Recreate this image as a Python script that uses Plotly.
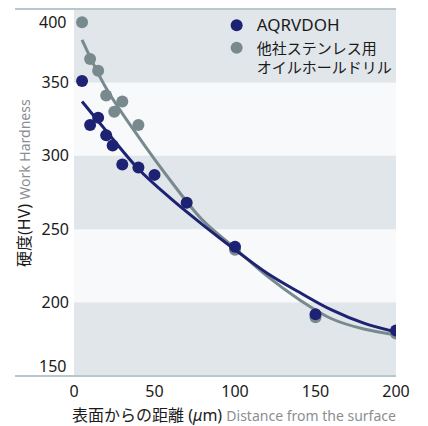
import plotly.graph_objects as go

# Measured points
depth_aq = [5, 10, 15, 20, 24, 30, 40, 50, 70, 100, 150, 200]
hv_aq = [351, 321, 326, 314, 307, 294, 292, 287, 268, 238, 192, 181]
depth_other = [5, 10, 15, 20, 25, 30, 40, 100, 150, 200]
hv_other = [391, 366, 358, 341, 330, 337, 321, 236, 190, 179]

# Trend curves
fit_x = [5, 20, 40, 60, 80, 100, 120, 140, 160, 180, 200]
fit_aq = [337, 317, 291, 271, 253, 236, 220, 207, 195, 186, 180]
fit_other = [379, 346, 313, 283, 256, 237, 218, 202, 189, 182, 178]

x_ticks = [0, 50, 100, 150, 200]
y_ticks = [200, 250, 300, 350]
y_edge_ticks = [400, 150]
dark_bands = [(350, 400), (250, 300), (150, 200)]

name_aq = "AQRVDOH"
name_other = "他社ステンレス用<br>オイルホールドリル"

NAVY = "#1E2272"
GRAY = "#788A8E"
TXT = "#1a1a1a"
SUB = "#8A8E92"
FONT = "Noto Sans, Noto Sans CJK JP, sans-serif"

fig = go.Figure()
fig.add_trace(go.Scatter(x=fit_x, y=fit_other, mode="lines", line=dict(color=GRAY, width=3, shape="spline"),
                         showlegend=False, hoverinfo="skip"))
fig.add_trace(go.Scatter(x=depth_other, y=hv_other, mode="markers", name=name_other,
                         marker=dict(color=GRAY, size=12), legendrank=2))
fig.add_trace(go.Scatter(x=fit_x, y=fit_aq, mode="lines", line=dict(color=NAVY, width=3, shape="spline"),
                         showlegend=False, hoverinfo="skip"))
fig.add_trace(go.Scatter(x=depth_aq, y=hv_aq, mode="markers",
                         name="<span style='font-size:17px'>" + name_aq + "</span>",
                         marker=dict(color=NAVY, size=12), legendrank=1))

shapes = []
for y0, y1 in dark_bands:
    shapes.append(dict(type="rect", xref="x", yref="y", x0=0, x1=200, y0=y0, y1=y1,
                       fillcolor="#E1E6EA", line=dict(width=0), layer="below"))
for yy in (0, 1):
    shapes.append(dict(type="line", xref="paper", yref="paper", x0=-0.183, x1=1, y0=yy, y1=yy,
                       line=dict(color="#B8C6CD", width=2)))

annotations = []
for v, sh in zip(y_edge_ticks, (-12.5, 10)):
    annotations.append(dict(xref="paper", yref="y", x=0, y=v, xshift=-6, yshift=sh, xanchor="right",
                            yanchor="middle", text=str(v), showarrow=False,
                            font=dict(size=16, color=TXT, family=FONT)))
annotations.append(dict(xref="paper", yref="paper", x=0.497, y=0, yshift=-39, xanchor="center", yanchor="middle",
                        showarrow=False, borderpad=0, font=dict(size=16, color=TXT, family=FONT),
                        text="表面からの距離 (<i>μ</i>m) <span style='color:" + SUB + ";font-size:14px'>Distance from the surface</span>"))
annotations.append(dict(xref="paper", yref="paper", x=0, xshift=-50, y=0.526, xanchor="center", yanchor="middle",
                        textangle=-90, showarrow=False, borderpad=0, font=dict(size=16, color=TXT, family=FONT),
                        text="硬度(HV) <span style='color:" + SUB + ";font-size:14px'>Work Hardness</span>"))

# page body has an 8px default margin, so the figure is sized 8px smaller
fig.update_layout(
    width=420, height=418,
    margin=dict(l=66, r=32, t=1, b=50, pad=0),
    paper_bgcolor="white", plot_bgcolor="#F7F9FA",
    font=dict(family=FONT, color=TXT, size=16),
    shapes=shapes, annotations=annotations,
    showlegend=True,
    legend=dict(x=0.443, y=1, xanchor="left", yanchor="top", bgcolor="rgba(0,0,0,0)",
                font=dict(size=15, color=TXT, family=FONT), valign="top", itemwidth=30),
    xaxis=dict(range=[0, 200], tickvals=x_ticks, showgrid=False, zeroline=False, showline=False,
               ticks="", ticklabelstandoff=4, tickfont=dict(size=16, color=TXT)),
    yaxis=dict(range=[150, 400], tickvals=y_ticks, showgrid=False, zeroline=False, showline=False,
               ticks="", ticklabelstandoff=4, tickfont=dict(size=16, color=TXT)),
)

fig.write_html("out.html")
